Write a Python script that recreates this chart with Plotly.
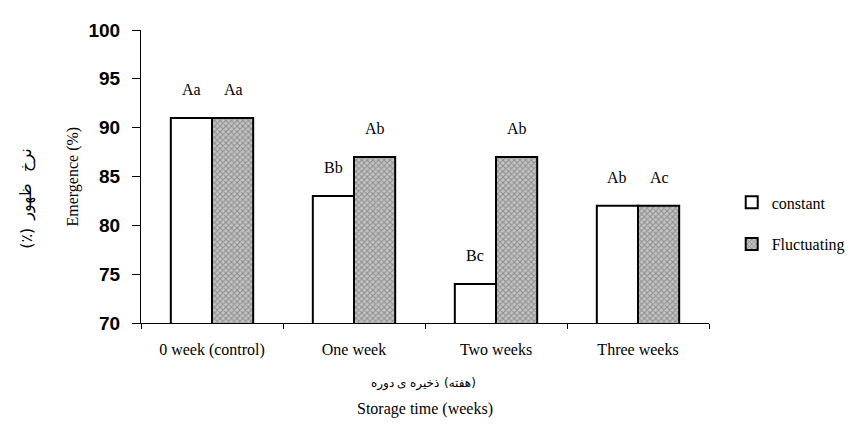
import plotly.graph_objects as go

categories = ["0 week (control)", "One week", "Two weeks", "Three weeks"]
constant = [91, 83, 74, 82]
fluctuating = [91, 87, 87, 82]
constant_labels = ["Aa", "Bb", "Bc", "Ab"]
fluctuating_labels = ["Aa", "Ab", "Ab", "Ac"]
y_ticks = [70, 75, 80, 85, 90, 95, 100]

serif = "Liberation Serif, Times New Roman, serif"
arabic = "DejaVu Sans"

# plot area in screen pixels (for placing title pieces)
PX0, PX1, PY0, PY1 = 141, 716, 22, 323
def px_x(sx):
    return (sx - PX0) / (PX1 - PX0)
def px_y(sy):
    return (PY1 - sy) / (PY1 - PY0)

fig = go.Figure()
fig.add_trace(go.Bar(
    x=categories, y=constant, name="constant", legendgroup="c",
    marker=dict(color="white", line=dict(color="black", width=2)),
))
fig.add_trace(go.Bar(
    x=categories, y=fluctuating, name="Fluctuating", legendgroup="f",
    marker=dict(color="#a8a8a8", line=dict(color="black", width=2),
                pattern=dict(shape="x", size=4, solidity=0.45,
                             fgcolor="#555555", bgcolor="#c4c4c4")),
))

for cat, v, t in zip(categories, constant, constant_labels):
    fig.add_annotation(x=cat, y=v + 2.9, text=t, showarrow=False, xshift=-21,
                       font=dict(family=serif, size=16, color="black"))
for cat, v, t in zip(categories, fluctuating, fluctuating_labels):
    fig.add_annotation(x=cat, y=v + 2.9, text=t, showarrow=False, xshift=21,
                       font=dict(family=serif, size=16, color="black"))

fig.add_annotation(xref="paper", yref="paper", x=0, y=0.5, xshift=-69,
                   xanchor="center", yanchor="middle",
                   text="Emergence (%)", textangle=-90, showarrow=False,
                   font=dict(family=serif, size=16, color="black"))

# Persian y title, pieces placed bottom-to-top: (٪) ظهور نرخ
for word, sy in [("(٪)", 236), ("ظهور", 199), ("نرخ", 155)]:
    fig.add_annotation(xref="paper", yref="paper", x=px_x(25), y=px_y(sy),
                       xanchor="center", yanchor="middle", textangle=-90,
                       text=word, showarrow=False,
                       font=dict(family=arabic, size=16, color="black"))

# Persian x title, pieces placed left-to-right
for word, sx in [("دوره", 385), ("ی", 405), ("ذخیره", 428), ("(هفته)", 464)]:
    fig.add_annotation(xref="paper", yref="paper", x=px_x(sx), y=px_y(385),
                       xanchor="center", yanchor="middle",
                       text=word, showarrow=False,
                       font=dict(family=arabic, size=12, color="black"))

fig.add_annotation(xref="paper", yref="paper", x=0.5, y=0, yshift=-86,
                   xanchor="center", yanchor="middle",
                   text="Storage time (weeks)", showarrow=False,
                   font=dict(family=serif, size=16, color="black"))

fig.update_layout(
    width=854, height=419,
    margin=dict(l=133, r=146, t=14, b=104),
    paper_bgcolor="white", plot_bgcolor="white",
    barmode="group", bargap=0.42, bargroupgap=0,
    showlegend=True,
    legend=dict(x=1.04, xanchor="left", xref="paper", y=0.34, yanchor="middle",
                traceorder="grouped", tracegroupgap=18,
                font=dict(family=serif, size=16, color="black"),
                itemwidth=30, bgcolor="rgba(0,0,0,0)"),
    xaxis=dict(showline=True, linecolor="black", linewidth=1,
               ticks="outside", tickson="boundaries", ticklen=5,
               tickcolor="black", showgrid=False, ticklabelstandoff=12,
               tickfont=dict(family=serif, size=16, color="black")),
    yaxis=dict(range=[70, 100], tickvals=y_ticks, showline=True,
               linecolor="black", linewidth=1, ticks="outside", ticklen=8,
               tickcolor="black", showgrid=False, zeroline=False,
               ticklabelstandoff=8,
               tickfont=dict(family="Liberation Sans, Arial, sans-serif",
                             size=19, color="black", weight="bold")),
)

fig.write_html("out.html")
